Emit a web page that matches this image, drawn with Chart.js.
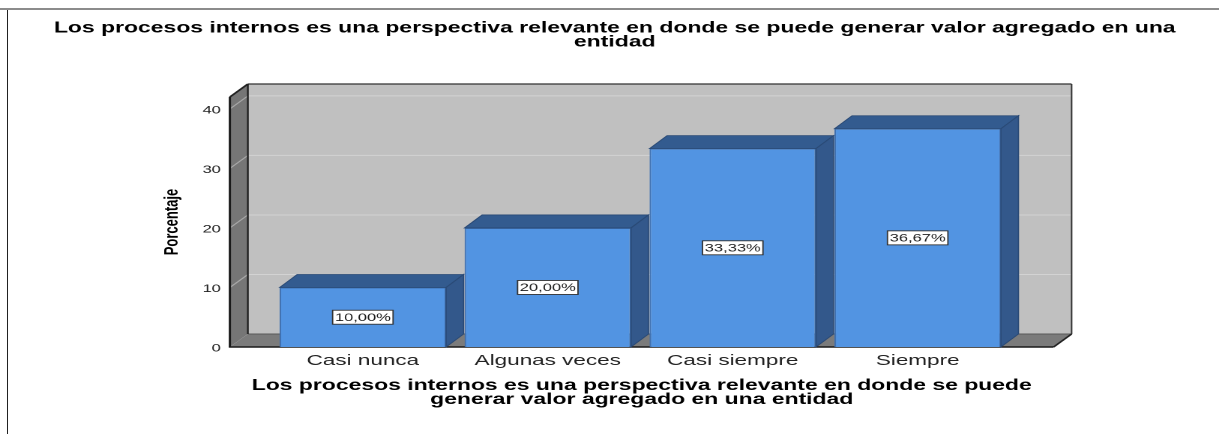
<!DOCTYPE html>
<html>
<head>
<meta charset="utf-8">
<script src="https://cdn.jsdelivr.net/npm/chart.js@4.4.0/dist/chart.umd.min.js"></script>
<style>
  html, body { margin: 0; padding: 0; background: #ffffff; overflow: hidden; width: 1219px; height: 434px; }
  #wrap { position: absolute; left: 0; top: 0; width: 813px; height: 434px; transform: scaleX(1.49938); transform-origin: 0 0; }
  .frameTop { position: absolute; left: 0; top: 8px; width: 1219px; height: 2px; background: #8c8c8c; }
  .frameLeft { position: absolute; left: 7px; top: 10px; width: 1px; height: 424px; background: #222; }
</style>
</head>
<body>
<div id="wrap"><canvas id="c"></canvas></div>
<div class="frameTop"></div>
<div class="frameLeft"></div>
<script>
// ---- data ----
const categories = ['Casi nunca', 'Algunas veces', 'Casi siempre', 'Siempre'];
const percentages = [10.00, 20.00, 33.33, 36.67];
const yTickValues = [0, 10, 20, 30, 40];
const chartTitle = ['Los procesos internos es una perspectiva relevante en donde se puede generar valor agregado en una', 'entidad'];
const xAxisTitle = ['Los procesos internos es una perspectiva relevante en donde se puede', 'generar valor agregado en una entidad'];
const yAxisTitle = 'Porcentaje';

// ---- styles ----
const FONT = "'Liberation Sans', Arial, Helvetica, sans-serif";
const wallDepth = { dx: 12, dy: -13 };
const barDepth = { dx: 11.7, dy: -13 };
const colors = {
  backWall: '#c0c0c0', sideWall: '#767676', floor: '#7b7b7b',
  gridBack: '#d3d3d3', gridSide: '#a9a9a9',
  barFront: '#5294e2', barBorder: '#3f70b0', barTop: '#335b8f', barSide: '#33588b', barEdge: '#2a4a76'
};

Chart.defaults.font.family = FONT;

function poly(ctx, pts, fill, stroke, lw) {
  ctx.beginPath();
  ctx.moveTo(pts[0][0], pts[0][1]);
  for (let i = 1; i < pts.length; i++) ctx.lineTo(pts[i][0], pts[i][1]);
  ctx.closePath();
  if (fill) { ctx.fillStyle = fill; ctx.fill(); }
  if (stroke) { ctx.strokeStyle = stroke; ctx.lineWidth = lw || 1; ctx.stroke(); }
}
function line(ctx, x0, y0, x1, y1, color, lw) {
  ctx.beginPath(); ctx.moveTo(x0, y0); ctx.lineTo(x1, y1);
  ctx.strokeStyle = color; ctx.lineWidth = lw || 1; ctx.stroke();
}

const threeD = {
  id: 'threeD',
  beforeDatasetsDraw(chart) {
    const { ctx, chartArea: a, scales: { y } } = chart;
    const { dx, dy } = wallDepth;
    ctx.save();
    // back wall
    ctx.fillStyle = colors.backWall;
    ctx.fillRect(a.left + dx, a.top + dy, a.right - a.left, a.bottom - a.top);
    y.ticks.forEach(t => {
      if (t.value === 0) return;
      const py = y.getPixelForValue(t.value);
      line(ctx, a.left + dx, py + dy, a.right + dx, py + dy, colors.gridBack, 1);
    });
    // left wall
    poly(ctx, [[a.left, a.top], [a.left + dx, a.top + dy], [a.left + dx, a.bottom + dy], [a.left, a.bottom]], colors.sideWall);
    y.ticks.forEach(t => {
      if (t.value === 0) return;
      const py = y.getPixelForValue(t.value);
      line(ctx, a.left, py, a.left + dx, py + dy, colors.gridSide, 1);
    });
    // floor
    poly(ctx, [[a.left, a.bottom], [a.left + dx, a.bottom + dy], [a.right + dx, a.bottom + dy], [a.right, a.bottom]], colors.floor);
    // edges
    line(ctx, a.left + dx, a.bottom + dy, a.right + dx, a.bottom + dy, '#5a5a5a', 1);
    line(ctx, a.left + dx, a.top + dy, a.right + dx, a.top + dy, '#333', 1.2);
    line(ctx, a.right + dx, a.top + dy, a.right + dx, a.bottom + dy, '#333', 1);
    line(ctx, a.left + dx, a.top + dy, a.left + dx, a.bottom + dy, '#222', 1.2);
    line(ctx, a.left, a.top, a.left + dx, a.top + dy, '#222', 1.5);
    line(ctx, a.right, a.bottom, a.right + dx, a.bottom + dy, '#222', 1.3);
    line(ctx, a.left, a.top, a.left, a.bottom, '#1a1a1a', 1.5);
    line(ctx, a.left - 0.7, a.bottom, a.right, a.bottom, '#1a1a1a', 1.5);
    ctx.restore();
  },
  afterDatasetsDraw(chart) {
    const { ctx } = chart;
    const { dx, dy } = barDepth;
    const meta = chart.getDatasetMeta(0);
    ctx.save();
    meta.data.forEach((bar, i) => {
      const p = bar.getProps(['x', 'y', 'width', 'base'], true);
      const x0 = p.x - p.width / 2, x1 = p.x + p.width / 2;
      poly(ctx, [[x0, p.y], [x0 + dx, p.y + dy], [x1 + dx, p.y + dy], [x1, p.y]], colors.barTop, colors.barEdge, 0.8);
      poly(ctx, [[x1, p.y], [x1 + dx, p.y + dy], [x1 + dx, p.base + dy], [x1, p.base]], colors.barSide, colors.barEdge, 0.8);
    });
    // value labels
    ctx.font = '11px ' + FONT;
    ctx.textAlign = 'center';
    ctx.textBaseline = 'middle';
    meta.data.forEach((bar, i) => {
      const p = bar.getProps(['x', 'y', 'base'], true);
      const txt = percentages[i].toFixed(2).replace('.', ',') + '%';
      const w = ctx.measureText(txt).width + 3;
      const h = 14;
      const cy = (p.y + p.base) / 2;
      ctx.fillStyle = '#ffffff';
      ctx.fillRect(p.x - w / 2, cy - h / 2, w, h);
      ctx.strokeStyle = '#333333';
      ctx.lineWidth = 0.9;
      ctx.strokeRect(p.x - w / 2, cy - h / 2, w, h);
      ctx.fillStyle = '#1e1e1e';
      ctx.fillText(txt, p.x, cy + 0.5);
    });
    ctx.restore();
  }
};

new Chart(document.getElementById('c'), {
  type: 'bar',
  data: {
    datasets: [{
      data: percentages.map((v, i) => ({ x: i, y: v })),
      backgroundColor: colors.barFront,
      borderColor: colors.barBorder,
      borderWidth: 1,
      barPercentage: 0.9,
      categoryPercentage: 1.0
    }]
  },
  plugins: [threeD],
  options: {
    responsive: true,
    maintainAspectRatio: false,
    animation: false,
    devicePixelRatio: 2,
    layout: { padding: { left: 7, right: 0, top: 0, bottom: 27 } },
    plugins: {
      legend: { display: false },
      tooltip: { enabled: false },
      title: {
        display: true,
        text: chartTitle,
        color: '#000',
        font: { size: 15.3, weight: 'bold', lineHeight: 14 / 15.3 },
        padding: { top: 21.5, bottom: 47.5 }
      }
    },
    scales: {
      x: {
        type: 'linear',
        offset: false,
        min: -0.719,
        max: 3.735,
        afterBuildTicks: s => { s.ticks = categories.map((c, i) => ({ value: i })); },
        afterFit: s => { s.height = 60; },
        ticks: {
          callback: v => categories[v],
          autoSkip: false, maxRotation: 0,
          color: '#222', padding: 5,
          font: { size: 15 }
        },
        grid: { display: false, drawTicks: false, offset: false },
        border: { display: false },
        title: {
          display: true, text: xAxisTitle, color: '#000',
          font: { size: 15.3, weight: 'bold', lineHeight: 14 / 15.3 },
          padding: { top: 0, bottom: 0 }
        }
      },
      y: {
        type: 'linear',
        min: 0,
        max: 42,
        afterBuildTicks: s => { s.ticks = yTickValues.map(v => ({ value: v })); },
        afterFit: s => { s.width = 146.3; },
        ticks: { color: '#222', padding: 6, labelOffset: 1.5, font: { size: 11 } },
        grid: { display: false, drawTicks: false },
        border: { display: false },
        title: {
          display: true, text: yAxisTitle, color: '#000',
          font: { size: 13, weight: 'bold', lineHeight: 1.2 },
          padding: { top: 99.9, bottom: 0 }
        }
      },
      yPad: {
        type: 'linear', position: 'right', display: true, min: 0, max: 1,
        ticks: { display: false },
        grid: { display: false, drawTicks: false },
        border: { display: false },
        afterFit: s => { s.width = 110.3; }
      }
    }
  }
});
</script>
</body>
</html>
